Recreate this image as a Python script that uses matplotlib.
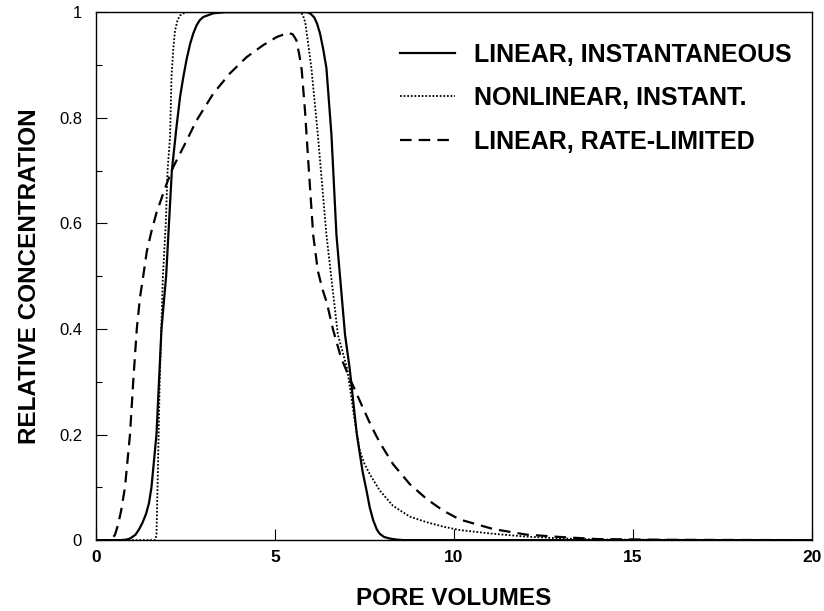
import matplotlib
matplotlib.use("Agg")
import matplotlib.pyplot as plt
from matplotlib.ticker import MultipleLocator

plt.rcParams['font.family'] = ['Liberation Sans', 'DejaVu Sans']

# linear, instantaneous sorption
lin_x = [0, 0.7, 0.85, 0.95, 1.1, 1.2, 1.3, 1.4, 1.48, 1.55, 1.69, 1.76, 1.83, 1.96,
         2.04, 2.12, 2.25, 2.35, 2.44, 2.53, 2.63, 2.72, 2.81, 2.9, 3.0, 3.28, 3.6,
         5.9, 6.0, 6.1, 6.18, 6.26, 6.35, 6.44, 6.58, 6.72, 6.96, 7.09, 7.29, 7.37, 7.45,
         7.56, 7.65, 7.75, 7.85, 7.93, 8.05, 8.21, 8.4, 8.6, 20]
lin_y = [0, 0, 0.001, 0.003, 0.01, 0.02, 0.033, 0.05, 0.07, 0.1, 0.2, 0.3, 0.4, 0.5,
         0.6, 0.7, 0.783, 0.84, 0.877, 0.91, 0.94, 0.96, 0.975, 0.985, 0.991, 0.998, 1.0,
         1.0, 0.997, 0.99, 0.978, 0.96, 0.93, 0.894, 0.768, 0.578, 0.389, 0.325, 0.2, 0.165, 0.13,
         0.094, 0.062, 0.037, 0.02, 0.012, 0.006, 0.003, 0.001, 0, 0]

# nonlinear, instantaneous sorption
nonlin_x = [0, 1.65, 1.69, 1.72, 1.78, 1.87, 1.95, 2.0, 2.07, 2.11, 2.16, 2.21, 2.28,
            2.35, 2.5, 5.7, 5.78, 5.85, 5.93, 6.02, 6.2, 6.44, 6.76, 7.02, 7.2, 7.37, 7.5,
            7.65, 7.93, 8.3, 8.77, 9.24, 9.7, 10.17, 11.1, 12.03, 12.96, 14.0, 20]
nonlin_y = [0, 0, 0.01, 0.1, 0.3, 0.5, 0.6, 0.7, 0.764, 0.877, 0.93, 0.966, 0.985,
            0.994, 1.0, 1.0, 0.995, 0.98, 0.94, 0.894, 0.768, 0.578, 0.389, 0.325, 0.24, 0.17, 0.145,
            0.125, 0.094, 0.065, 0.0445, 0.034, 0.0256, 0.019, 0.012, 0.0066, 0.0034, 0.001, 0]

# linear, rate-limited sorption
rate_x = [0, 0.34, 0.45, 0.53, 0.62, 0.7, 0.81, 0.95, 1.04, 1.14, 1.23, 1.32, 1.42, 1.55,
          1.69, 1.87, 2.0, 2.16, 2.49, 2.81, 3.28, 3.74, 4.21, 4.67, 5.05, 5.37, 5.5, 5.6,
          5.68, 5.75, 5.84, 5.93, 6.07, 6.2, 6.33, 6.45, 6.62, 6.85, 7.1, 7.2, 7.45, 7.7,
          7.93, 8.3, 8.77, 9.24, 9.7, 10.17, 11.1, 12.03, 12.96, 14.0, 16.0, 20]
rate_y = [0, 0, 0.003, 0.01, 0.03, 0.055, 0.1, 0.2, 0.3, 0.4, 0.46, 0.5, 0.547, 0.585,
          0.62, 0.655, 0.68, 0.707, 0.751, 0.795, 0.846, 0.884, 0.915, 0.9375, 0.953, 0.961, 0.958, 0.947,
          0.92, 0.89, 0.814, 0.72, 0.578, 0.51, 0.475, 0.45, 0.40, 0.345, 0.305, 0.29, 0.252, 0.215,
          0.185, 0.144, 0.106, 0.078, 0.056, 0.039, 0.021, 0.0104, 0.006, 0.002, 0.0005, 0]

labels = ["LINEAR, INSTANTANEOUS", "NONLINEAR, INSTANT.", "LINEAR, RATE-LIMITED"]

fig = plt.figure(figsize=(8.24, 6.11), dpi=100)
ax = fig.add_axes([0.1165, 0.116, 0.8685, 0.864])

ax.plot(lin_x, lin_y, color='black', lw=1.6, label=labels[0])
ax.plot(nonlin_x, nonlin_y, color='black', lw=1.3, linestyle=(0, (1, 1.0)), label=labels[1])
ax.plot(rate_x, rate_y, color='black', lw=1.6, linestyle=(0, (5.2, 3.2)), label=labels[2])

ax.set_xlim(0, 20)
ax.set_ylim(0, 1)
ax.yaxis.set_minor_locator(MultipleLocator(0.1))
ax.set_yticks([0, 0.2, 0.4, 0.6, 0.8, 1.0])
ax.set_yticklabels(["0", "0.2", "0.4", "0.6", "0.8", "1"], fontsize=12)
ax.set_xticks([0, 5, 10, 15, 20])
ax.set_xticklabels(["0", "5", "10", "15", "20"], fontsize=12.5, fontweight='bold')
ax.tick_params(axis='y', which='major', direction='in', length=8, width=0.8, pad=10)
ax.tick_params(axis='y', which='minor', direction='in', length=4, width=0.8)
ax.tick_params(axis='x', which='major', direction='in', length=8, width=0.8, pad=7)
for s in ax.spines.values():
    s.set_linewidth(1.0)

ax.set_xlabel("PORE VOLUMES", fontsize=17.5, fontweight='bold', labelpad=16)
ax.set_ylabel("RELATIVE CONCENTRATION", fontsize=17.5, fontweight='bold', labelpad=13)

leg = ax.legend(loc='upper right', bbox_to_anchor=(1.003, 0.985), frameon=False,
                fontsize=18, handlelength=2.2, handletextpad=0.76, labelspacing=0.78)
for t in leg.get_texts():
    t.set_fontweight('bold')

fig.savefig("out.png", dpi=100)
